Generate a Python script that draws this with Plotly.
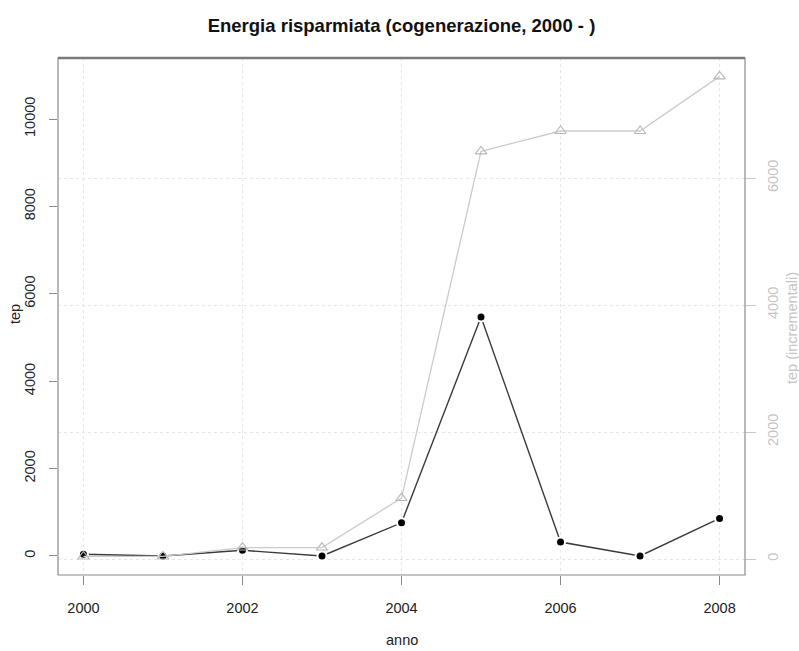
import plotly.graph_objects as go

# Annual saved energy (tep) and running total (tep incrementali), 2000-2008
anni = [2000, 2001, 2002, 2003, 2004, 2005, 2006, 2007, 2008]
tep_annuali = [40, 0, 130, 0, 760, 5470, 320, 0, 860]
tep_incrementali = [40, 40, 180, 180, 960, 6420, 6740, 6740, 7600]

left_ticks = [0, 2000, 4000, 6000, 8000, 10000]
right_ticks = [0, 2000, 4000, 6000]
x_ticks = [2000, 2002, 2004, 2006, 2008]

FONT = "Liberation Sans, Arial, Helvetica, sans-serif"
LIGHT = "#c4c4c4"
AXIS = "#8a8a8a"
TXT = 14.5

fig = go.Figure()

# cumulative series, light grey open triangles on the right axis
fig.add_trace(go.Scatter(
    x=anni, y=tep_incrementali, yaxis="y2", mode="lines+markers",
    line=dict(color="#cbcbcb", width=1.3),
    marker=dict(symbol="triangle-up-open", size=10, color="#b8b8b8",
                line=dict(width=1.1, color="#b8b8b8")),
    showlegend=False,
))

# annual series, black dots on the left axis
fig.add_trace(go.Scatter(
    x=anni, y=tep_annuali, yaxis="y", mode="lines+markers",
    line=dict(color="#3a3a3a", width=1.4),
    marker=dict(symbol="circle", size=9, color="#000000",
                line=dict(width=2, color="white")),
    showlegend=False,
))

fig.update_layout(
    width=799, height=651,
    margin=dict(l=58, r=54, t=58, b=76),
    paper_bgcolor="white", plot_bgcolor="white",
    font=dict(family=FONT, size=TXT, color="#222222"),
    title=dict(text="<b>Energia risparmiata (cogenerazione, 2000 - )</b>",
               x=(58 + 745) / 2 / 799, xanchor="center", y=1 - 26 / 651, yanchor="middle",
               font=dict(size=18.5, color="#111111", family=FONT)),
    xaxis=dict(
        range=[1999.68, 2008.32], tickvals=x_ticks, ticktext=[str(v) for v in x_ticks],
        ticks="outside", ticklen=9, tickcolor=AXIS, tickwidth=1,
        showgrid=True, gridcolor="#e6e6e6", griddash="dot", gridwidth=1,
        zeroline=False, showline=False, ticklabelstandoff=11,
        tickfont=dict(size=TXT, color="#222222"),
    ),
    yaxis=dict(
        range=[-435, 11396], tickvals=left_ticks, ticktext=[str(v) for v in left_ticks],
        ticks="outside", ticklen=8, tickcolor=AXIS, tickwidth=1, tickangle=-90,
        showgrid=False, zeroline=False, showline=False, ticklabelstandoff=8,
        tickfont=dict(size=TXT, color="#222222"),
    ),
    yaxis2=dict(
        range=[-252, 7890], overlaying="y", side="right",
        tickvals=right_ticks, ticktext=[str(v) for v in right_ticks],
        ticks="outside", ticklen=10, tickcolor="#c8c8c8", tickwidth=1, tickangle=-90,
        showgrid=True, gridcolor="#e6e6e6", griddash="dot", gridwidth=1,
        zeroline=False, showline=False, ticklabelstandoff=5,
        tickfont=dict(size=TXT, color=LIGHT),
    ),
    shapes=[
        dict(type="rect", xref="paper", yref="paper", x0=0, x1=1, y0=0, y1=1,
             line=dict(color=AXIS, width=1.2), layer="above"),
        dict(type="line", xref="paper", yref="paper", x0=0, x1=1, y0=1, y1=1,
             line=dict(color="#7a7a7a", width=2.5), layer="above"),
    ],
    annotations=[
        dict(text="anno", xref="paper", yref="paper", x=0.5, y=-(640 - 575) / 517,
             xanchor="center", yanchor="middle", showarrow=False,
             font=dict(size=TXT, color="#222222")),
        dict(text="tep", xref="paper", yref="paper", x=-(58 - 15) / 687, y=(575 - 314) / 517,
             xanchor="center", yanchor="middle", textangle=-90, showarrow=False,
             font=dict(size=TXT, color="#222222")),
        dict(text="tep (incrementali)", xref="paper", yref="paper", x=1 + (792 - 745) / 687,
             y=(575 - 328) / 517, xanchor="center", yanchor="middle", textangle=-90,
             showarrow=False, font=dict(size=TXT, color=LIGHT)),
    ],
)

fig.write_html("out.html")
